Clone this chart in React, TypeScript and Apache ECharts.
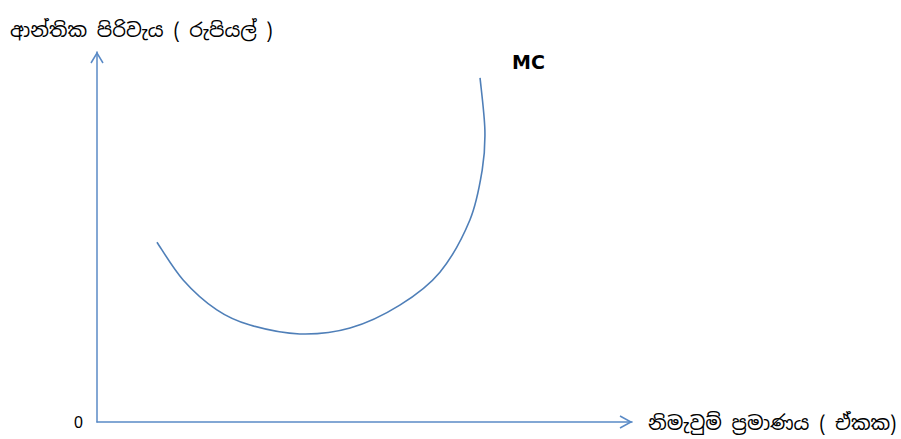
import React, { useEffect, useRef } from "react";
import * as echarts from "echarts";

const yAxisTitle = "ආන්තික පිරිවැය ( රුපියල් )";
const xAxisTitle = "නිමැවුම් ප්‍රමාණය ( ඒකක)";
const curveName = "MC";
const originLabel = "0";

// MC curve points: [output, marginal cost] on a 0–100 scale
const mcX = [11.2, 16.1, 22.4, 28.6, 37.9, 47.3, 56.6, 64.1, 69.7, 72.0, 72.5, 71.6];
const mcY = [48.6, 38.4, 30.3, 26.2, 23.8, 25.4, 31.6, 40.5, 54.6, 68.1, 78.9, 93.0];

const AXIS_COLOR = "#5a8ac6";
const CURVE_COLOR = "#4f7fb8";

export default function App() {
  const ref = useRef<HTMLDivElement>(null);
  useEffect(() => {
    if (!ref.current) return;
    const chart = echarts.init(ref.current, undefined, { renderer: "svg" });
    const gl = 97, gt = 52, gr = 901 - 632, gb = 439 - 422;
    const data = mcX.map((x, i) => [x, mcY[i]]);
    chart.setOption({
      animation: false,
      backgroundColor: "#ffffff",
      grid: { left: gl, top: gt, right: gr, bottom: gb, containLabel: false },
      xAxis: {
        type: "value",
        min: 0,
        max: 100,
        axisLine: { show: true, lineStyle: { color: AXIS_COLOR, width: 1.5 } },
        axisTick: { show: false },
        axisLabel: { show: false },
        splitLine: { show: false },
      },
      yAxis: {
        type: "value",
        min: 0,
        max: 100,
        interval: 100,
        axisLine: { show: true, lineStyle: { color: AXIS_COLOR, width: 1.5 } },
        axisTick: { show: false },
        axisLabel: {
          show: true,
          margin: 14,
          color: "#000",
          fontSize: 16,
          fontFamily: "Liberation Sans, Arial, sans-serif",
          formatter: (v: number) => (v === 0 ? originLabel : ""),
        },
        splitLine: { show: false },
      },
      series: [
        {
          name: curveName,
          type: "custom",
          data,
          clip: false,
          renderItem: (params: any, api: any) => {
            if (params.dataIndex !== 0) return null;
            const pts = data.map((d) => api.coord(d));
            const n = pts.length;
            let d = `M${pts[0][0]},${pts[0][1]}`;
            for (let i = 0; i < n - 1; i++) {
              const p0 = pts[Math.max(0, i - 1)];
              const p1 = pts[i];
              const p2 = pts[i + 1];
              const p3 = pts[Math.min(n - 1, i + 2)];
              const c1x = p1[0] + (p2[0] - p0[0]) / 6;
              const c1y = p1[1] + (p2[1] - p0[1]) / 6;
              const c2x = p2[0] - (p3[0] - p1[0]) / 6;
              const c2y = p2[1] - (p3[1] - p1[1]) / 6;
              d += ` C${c1x},${c1y} ${c2x},${c2y} ${p2[0]},${p2[1]}`;
            }
            return {
              type: "path",
              shape: { pathData: d },
              style: { stroke: CURVE_COLOR, fill: "none", lineWidth: 1.6 },
            };
          },
        },
      ],
      graphic: [
        {
          type: "polyline",
          shape: { points: [[91, 63], [97, 53], [103, 63]] },
          style: { stroke: AXIS_COLOR, lineWidth: 1.5, fill: "none" },
        },
        {
          type: "polyline",
          shape: { points: [[620, 416], [631, 422], [620, 428]] },
          style: { stroke: AXIS_COLOR, lineWidth: 1.5, fill: "none" },
        },
        {
          type: "text",
          x: 10,
          y: 30,
          style: {
            text: yAxisTitle,
            fill: "#000",
            fontSize: 19.5,
            fontFamily: "Noto Sans Sinhala, Iskoola Pota, Noto Sans, sans-serif",
            verticalAlign: "middle",
            textAlign: "left",
          },
        },
        {
          type: "text",
          x: 648,
          y: 423,
          style: {
            text: xAxisTitle,
            fill: "#000",
            fontSize: 19.5,
            fontFamily: "Noto Sans Sinhala, Iskoola Pota, Noto Sans, sans-serif",
            verticalAlign: "middle",
            textAlign: "left",
          },
        },
        {
          type: "text",
          x: 512,
          y: 62,
          style: {
            text: curveName,
            fill: "#000",
            fontSize: 19,
            fontWeight: "bold",
            fontFamily: "DejaVu Sans, Liberation Sans, sans-serif",
            verticalAlign: "middle",
            textAlign: "left",
          },
        },
      ],
    });
    return () => chart.dispose();
  }, []);
  return (
    <div
      ref={ref}
      style={{ position: "absolute", left: 0, top: 0, width: 901, height: 439 }}
    />
  );
}
